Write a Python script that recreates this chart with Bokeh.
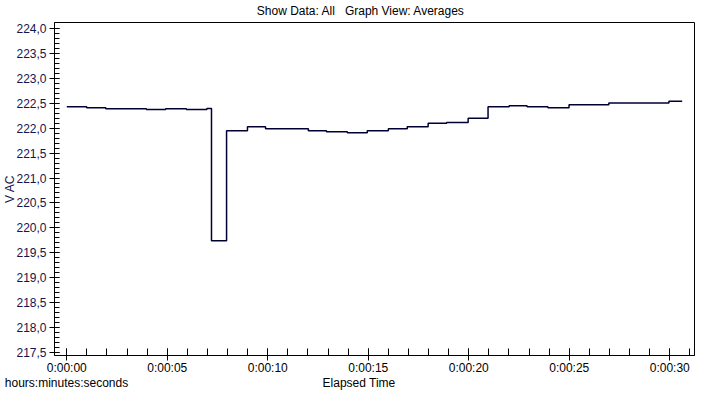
from bokeh.plotting import figure
from bokeh.models import Range1d, FixedTicker, LinearAxis
from bokeh.embed import file_html
from bokeh.resources import INLINE

# ---- data ----
times = [0.0, 0.99, 1.94, 3.96, 4.92, 5.95, 6.97, 7.20, 7.95, 8.99, 9.89,
         12.02, 12.92, 13.96, 14.95, 16.00, 16.94, 17.98, 18.90, 19.97,
         20.96, 22.01, 22.90, 23.94, 24.99, 26.97, 29.96, 30.62]
volts = [222.43, 222.41, 222.39, 222.375, 222.39, 222.375, 222.395, 219.74,
         221.95, 222.03, 221.99, 221.95, 221.93, 221.91, 221.95, 221.99,
         222.03, 222.10, 222.115, 222.20, 222.43, 222.45, 222.43, 222.41,
         222.47, 222.505, 222.54, 222.54]

x_ticks = [0, 5, 10, 15, 20, 25, 30]
x_tick_labels = ["0:00:00", "0:00:05", "0:00:10", "0:00:15", "0:00:20", "0:00:25", "0:00:30"]
x_minor = list(range(0, 32))

y_ticks = [217.5, 218.0, 218.5, 219.0, 219.5, 220.0, 220.5, 221.0, 221.5,
           222.0, 222.5, 223.0, 223.5, 224.0]
y_tick_labels = ["217,5", "218,0", "218,5", "219,0", "219,5", "220,0", "220,5",
                 "221,0", "221,5", "222,0", "222,5", "223,0", "223,5", "224,0"]
y_minor = [round(217.5 + 0.1 * i, 1) for i in range(66)]

NBSP3 = "\u00a0\u00a0\u00a0"
title_text = "Show Data: All" + NBSP3 + "Graph View: Averages"
x_label = "Elapsed Time"
x_unit_label = "hours:minutes:seconds"
y_label = "V AC"

FONT = "Liberation Sans"
FS = "12px"

p = figure(width=703, height=392, output_backend="svg", toolbar_location=None,
           x_range=Range1d(-0.611, 31.232), y_range=Range1d(217.4405, 224.119),
           min_border_left=53, min_border_right=9, min_border_top=20,
           min_border_bottom=35)
p.background_fill_color = "white"
p.border_fill_color = "white"
p.outline_line_color = "black"
p.outline_line_width = 1
p.grid.visible = False

# pixel-like helper range spanning the frame (frame left = 53, right = 694)
p.extra_x_ranges = {"px": Range1d(53, 694)}

p.step(times, volts, mode="after", line_color="#000033", line_width=1.5)

# x axis
xa = p.xaxis[0]
xa.ticker = FixedTicker(ticks=x_ticks, minor_ticks=x_minor)
xa.major_label_overrides = {t: l for t, l in zip(x_ticks, x_tick_labels)}
xa.major_tick_in = 7
xa.major_tick_out = 5
xa.minor_tick_in = 7
xa.minor_tick_out = 0
xa.major_label_standoff = 0
xa.major_label_text_font = FONT
xa.major_label_text_font_size = FS
xa.major_label_text_line_height = 1.0
xa.major_label_text_color = "black"
xa.axis_line_color = "black"
xa.major_tick_line_color = "black"
xa.minor_tick_line_color = "black"

# y axis
ya = p.yaxis[0]
ya.ticker = FixedTicker(ticks=y_ticks, minor_ticks=y_minor)
ya.major_label_overrides = {t: l for t, l in zip(y_ticks, y_tick_labels)}
ya.major_tick_in = 5
ya.major_tick_out = 5
ya.minor_tick_in = 5
ya.minor_tick_out = 0
ya.major_label_standoff = 3
ya.major_label_text_font = FONT
ya.major_label_text_font_size = FS
ya.major_label_text_color = "#14144e"
ya.axis_line_color = "black"
ya.major_tick_line_color = "black"
ya.minor_tick_line_color = "black"
ya.axis_label = y_label
ya.axis_label_standoff = -4
ya.axis_label_text_font = FONT
ya.axis_label_text_font_size = FS
ya.axis_label_text_font_style = "normal"
ya.axis_label_text_color = "#14144e"


def text_axis(labels_at, side, standoff, line_height=1.2):
    ax = LinearAxis(x_range_name="px",
                    ticker=FixedTicker(ticks=list(labels_at.keys()), minor_ticks=[]))
    ax.major_label_overrides = labels_at
    ax.axis_line_color = None
    ax.major_tick_line_color = None
    ax.minor_tick_line_color = None
    ax.major_tick_in = 0
    ax.major_tick_out = 0
    ax.minor_tick_in = 0
    ax.minor_tick_out = 0
    ax.major_label_standoff = standoff
    ax.major_label_text_font = FONT
    ax.major_label_text_font_size = FS
    ax.major_label_text_line_height = line_height
    ax.major_label_text_color = "black"
    p.add_layout(ax, side)
    return ax


# bottom line of texts: unit note at the left, axis title centred
text_axis({65: x_unit_label, 358: x_label}, "below", -2, line_height=0.8)
# chart heading above the frame
text_axis({360: title_text}, "above", 5)

open("out.html", "w").write(file_html(p, INLINE))
